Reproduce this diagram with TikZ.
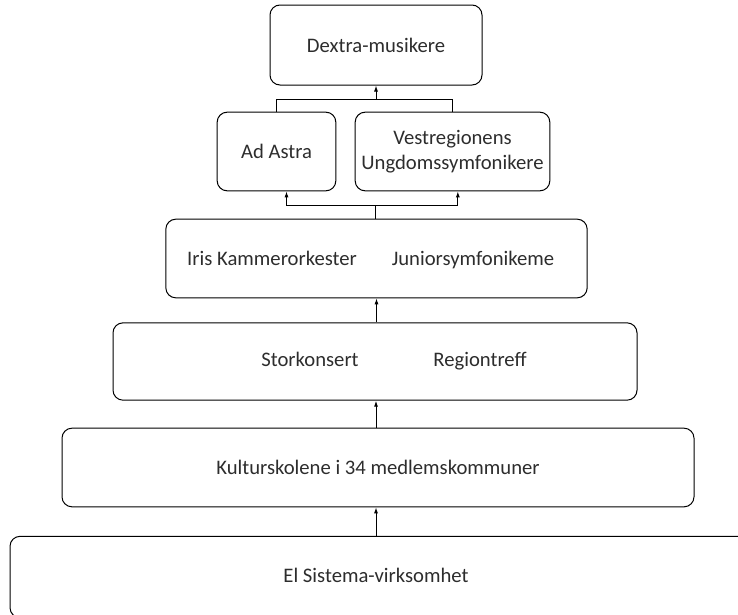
\documentclass[tikz,border=0pt]{standalone}
\usepackage{fontspec}
\setmainfont{Carlito}
\usetikzlibrary{arrows.meta}

\definecolor{txtgray}{RGB}{45,45,45}
\tikzset{every picture/.style={line width=0.75pt}}
\tikzset{
  rbox/.style={draw, rounded corners=7.5pt, inner sep=0pt, align=center, text=txtgray, font=\fontsize{15.5}{18.5}\selectfont},
  lbl/.style={inner sep=0pt, text height=11pt, text depth=3pt, text=txtgray, font=\fontsize{15.5}{18.5}\selectfont},
  uparrow/.style={-{Latex[length=4.5pt,width=3pt]}}
}

\begin{document}
\begin{tikzpicture}[x=0.75pt,y=0.75pt,yscale=-1,xscale=1]
\path[use as bounding box] (0,0) rectangle (738,614);

%Shape: Rounded Rect [id:top]
\node[rbox, minimum width=159pt, minimum height=60pt] (dextra) at (376,45) {Dextra-musikere};
%Shape: Rounded Rect [id:ensembles]
\node[rbox, minimum width=89pt, minimum height=59pt] (adastra) at (276.5,151.5) {Ad Astra};
\node[rbox, minimum width=146pt, minimum height=59pt] (vest) at (452.5,151.5) {Vestregionens\\Ungdomssymfonikere};
%Shape: Rounded Rect [id:orkester]
\node[rbox, minimum width=316pt, minimum height=59pt] (orkester) at (376.5,258.5) {};
\node[lbl] (iris) at (272,260) {Iris Kammerorkester};
\node[lbl] (junior) at (473,260) {Juniorsymfonikeme};
%Shape: Rounded Rect [id:treff]
\node[rbox, minimum width=393pt, minimum height=58pt] (treff) at (375,361.5) {};
\node[lbl] (stor) at (310,361) {Storkonsert};
\node[lbl] (region) at (480,361) {Regiontreff};
%Shape: Rounded Rect [id:kultur]
\node[rbox, minimum width=474pt, minimum height=59pt] (kultur) at (378,467.5) {Kulturskolene i 34 medlemskommuner};
%Shape: Rounded Rect [id:sistema] (runs off the right edge)
\node[rbox, minimum width=570pt, minimum height=61pt] (sistema) at (390,577) {};
\node[lbl] (elsis) at (376,577) {El Sistema-virksomhet};

% junction points
\coordinate (jtop) at (376,99);
\coordinate (jbot) at (375,205);

%Straight Lines
\draw (adastra.north) -- (adastra.north |- jtop) -- (vest.north |- jtop) -- (vest.north);
\draw[uparrow] (jtop) -- (dextra.south);
\draw (orkester.north -| jbot) -- (jbot);
\draw[uparrow] (jbot) -| ([xshift=7.5pt]adastra.south);
\draw[uparrow] (jbot) -| ([xshift=4pt]vest.south);
\draw[uparrow] (treff.north -| orkester.south) -- (orkester.south);
\draw[uparrow] (kultur.north -| jtop) -- (treff.south -| jtop);
\draw[uparrow] (sistema.north -| elsis) -- (kultur.south -| elsis);

\end{tikzpicture}
\end{document}
